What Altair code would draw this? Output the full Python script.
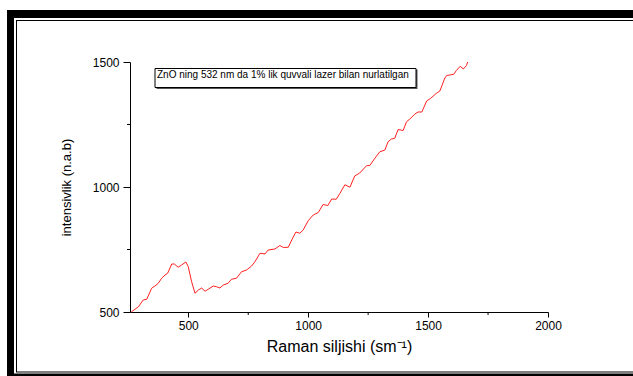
import altair as alt
import pandas as pd

# Raman spectrum of ZnO (532 nm, 1% laser power)
raman_shift = [262, 292, 312, 327, 347, 361, 375, 389, 403, 414, 431, 442, 458, 472, 490,
               500, 514, 528, 542, 556, 570, 583, 604, 618, 632, 646, 666, 680, 701, 722,
               743, 764, 778, 799, 820, 833, 861, 882, 896, 917, 937, 949, 965, 979, 1000,
               1021, 1042, 1062, 1082, 1098, 1117, 1132, 1153, 1174, 1194, 1215, 1243, 1257,
               1278, 1299, 1320, 1333, 1347, 1361, 1375, 1396, 1410, 1424, 1445, 1458, 1474,
               1494, 1511, 1535, 1549, 1570, 1578, 1590, 1607, 1618, 1634, 1647, 1660, 1665]
intensity = [500, 521, 548, 551, 595, 604, 615, 635, 648, 655, 692, 692, 679, 688, 700,
             681, 621, 575, 588, 596, 583, 591, 604, 601, 596, 608, 615, 631, 635, 661,
             668, 684, 701, 735, 732, 748, 752, 766, 758, 759, 799, 820, 815, 828, 865,
             888, 898, 930, 926, 952, 951, 974, 1009, 999, 1044, 1056, 1085, 1086,
             1115, 1141, 1148, 1181, 1192, 1195, 1230, 1226, 1261, 1272, 1292, 1300, 1300,
             1344, 1355, 1375, 1384, 1436, 1446, 1448, 1451, 1466, 1483, 1472, 1486, 1500]

x_ticks = [500, 1000, 1500, 2000]
x_minor = [750, 1250, 1750]
y_ticks = [500, 1000, 1500]
y_minor = [750, 1250]

legend_text = "ZnO ning 532 nm da 1% lik quvvali lazer bilan nurlatilgan"

W, H = 418, 250
FONT = "Liberation Sans"

x_scale = alt.Scale(domain=[257, 2000], nice=False, zero=False)
y_scale = alt.Scale(domain=[500, 1500], nice=False, zero=False)

x_axis = alt.Axis(
    values=x_ticks, format="d", title="Raman siljishi (sm⁻¹)", grid=False,
    domainColor="black", tickColor="black", tickSize=5, tickWidth=1,
    labelFont=FONT, labelFontSize=12, labelColor="black", labelPadding=3,
    labelFlush=False, titleFont=FONT, titleFontSize=16, titleFontWeight="normal",
    titleColor="black", titlePadding=7)
y_axis = alt.Axis(
    values=y_ticks, format="d", title="intensivlik (n.a.b)", grid=False,
    domainColor="black", tickColor="black", tickSize=7, tickWidth=1,
    labelFont=FONT, labelFontSize=12, labelColor="black", labelPadding=4,
    labelFlush=False, titleFont=FONT, titleFontSize=13, titleFontWeight="normal",
    titleColor="black", titlePadding=19)

spectrum = pd.DataFrame({"shift": raman_shift, "intensity": intensity})

line = alt.Chart(spectrum).mark_line(color="#ff2020", strokeWidth=1).encode(
    x=alt.X("shift:Q", scale=x_scale, axis=x_axis),
    y=alt.Y("intensity:Q", scale=y_scale, axis=y_axis),
)

# minor ticks between the labelled ones
x_minor_ticks = alt.Chart(pd.DataFrame({"shift": x_minor})).mark_rule(
    color="black", strokeWidth=1
).encode(
    x=alt.X("shift:Q", scale=x_scale, axis=x_axis),
    y=alt.value(H), y2=alt.value(H + 3),
)
y_minor_ticks = alt.Chart(pd.DataFrame({"intensity": y_minor})).mark_rule(
    color="black", strokeWidth=1
).encode(
    y=alt.Y("intensity:Q", scale=y_scale, axis=y_axis),
    x=alt.value(0), x2=alt.value(-3),
)

one = pd.DataFrame({"k": [0]})

# legend box with a small drop shadow
legend_shadow = alt.Chart(one).mark_rect(color="#555555").encode(
    x=alt.value(26.5), x2=alt.value(287.5), y=alt.value(7.5), y2=alt.value(27))
legend_box = alt.Chart(one).mark_rect(fill="white", stroke="black", strokeWidth=1).encode(
    x=alt.value(25), x2=alt.value(286), y=alt.value(6.5), y2=alt.value(25.5))
legend_label = alt.Chart(one).mark_text(
    text=legend_text, font=FONT, fontSize=10, color="black", align="left", baseline="top"
).encode(x=alt.value(27), y=alt.value(8))

# page frame: heavy band with a thin rule inside
frame_parts = [
    (-123, 503, -52, -44),
    (-114, 503, -42, -41),
    (-123, -116, -52, 314),
    (-114, -113, -42, 310),
    (-114, 503, 309.5, 310.5),
    (-123, 503, 311.5, 314),
]
frame = [
    alt.Chart(one).mark_rect(color="black").encode(
        x=alt.value(x0), x2=alt.value(x1), y=alt.value(y0), y2=alt.value(y1))
    for x0, x1, y0, y1 in frame_parts
]

chart = alt.layer(
    line, x_minor_ticks, y_minor_ticks, *frame, legend_shadow, legend_box, legend_label
).properties(
    width=W, height=H, autosize="none",
    padding={"left": 130, "top": 62, "right": 85, "bottom": 64},
    background="white",
).configure_view(stroke=None)

chart.save("out.html", embed_options={"renderer": "svg", "actions": False})
